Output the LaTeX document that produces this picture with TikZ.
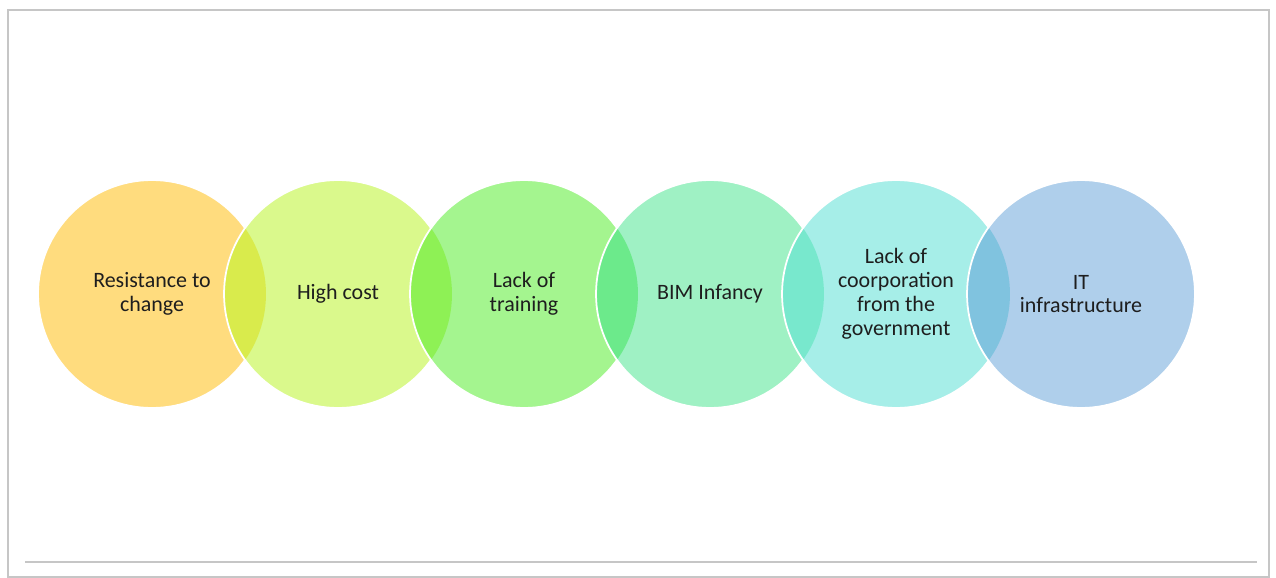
\documentclass[tikz,border=0pt]{standalone}
\usepackage{fontspec}
\setmainfont{Carlito}

\definecolor{gelb}{HTML}{FFDC7E}
\definecolor{limette}{HTML}{DAF98C}
\definecolor{gruen}{HTML}{A4F58F}
\definecolor{mint}{HTML}{9FF1C4}
\definecolor{tuerkis}{HTML}{A6EEE8}
\definecolor{blau}{HTML}{AFCFEB}
% Schnittflaechen
\definecolor{ueberA}{HTML}{D9EB4C}
\definecolor{ueberB}{HTML}{8EF155}
\definecolor{ueberC}{HTML}{6CEA8B}
\definecolor{ueberD}{HTML}{78E8CD}
\definecolor{ueberE}{HTML}{80C3DF}
\definecolor{schrift}{HTML}{1E1E1E}
\definecolor{rahmen}{HTML}{C6C6C6}

\tikzset{
	kreis/.style={circle, minimum size=4.56cm, inner sep=0pt, align=center,
		draw=white, line width=1pt, text=schrift,
		font=\fontsize{12.5}{13.6}\selectfont}
}

\begin{document}
\begin{tikzpicture}[x=0.02cm,y=-0.02cm]

	\useasboundingbox (0,0) rectangle (1276,578);

	% Rahmen
	\draw[rahmen, line width=1pt] (8,10) rectangle (1269,577);
	\draw[rahmen, line width=1.5pt] (25,562) -- (1257,562);

	% Kreise
	\node[kreis, fill=gelb] (res) at (152,294) {Resistance to\\change};
	\node[kreis, fill=limette,
		path picture={\fill[ueberA] (res.center) circle (2.28cm);}]
		(cost) at (338,294) {High cost};
	\node[kreis, fill=gruen,
		path picture={\fill[ueberB] (cost.center) circle (2.28cm);}]
		(train) at (524,294) {Lack of\\training};
	\node[kreis, fill=mint,
		path picture={\fill[ueberC] (train.center) circle (2.28cm);}]
		(bim) at (710,294) {BIM Infancy};
	\node[kreis, fill=tuerkis,
		path picture={\fill[ueberD] (bim.center) circle (2.28cm);}]
		(gov) at (896,294) {Lack of\\coorporation\\from the\\government};
	\node[kreis, fill=blau,
		path picture={\fill[ueberE] (gov.center) circle (2.28cm);}]
		(itinf) at (1081,294) {IT\\infrastructure};

\end{tikzpicture}
\end{document}
